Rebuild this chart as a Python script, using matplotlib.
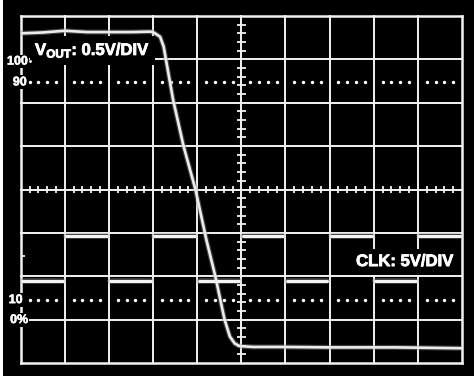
import numpy as np
import matplotlib
matplotlib.use("Agg")
import matplotlib.pyplot as plt
import matplotlib.patheffects as pe
from matplotlib import font_manager

bold_path = font_manager.findfont(
    font_manager.FontProperties(family='Liberation Sans', weight='bold'))
plt.rcParams['font.family'] = ['Liberation Sans', 'DejaVu Sans']
plt.rcParams['font.weight'] = 'bold'
plt.rcParams['mathtext.fontset'] = 'custom'
plt.rcParams['mathtext.rm'] = 'Liberation Sans:bold'
plt.rcParams['mathtext.bf'] = 'Liberation Sans:bold'
plt.rcParams['mathtext.it'] = 'Liberation Sans:bold'

# scope screen, units are divisions (10 x 8)
n_xdiv, n_ydiv = 10, 8

# VOUT trace (0.5V/DIV)
vout_t = [0.0, 0.5, 1.0, 1.5, 2.0, 2.5, 2.95, 3.03, 3.16, 3.24, 3.28,
          3.455, 3.69, 3.96, 4.21, 4.41, 4.62, 4.74, 4.85, 4.96, 5.26,
          5.88, 7.0, 8.5, 10.0]
vout_v = [7.60, 7.62, 7.66, 7.63, 7.63, 7.63, 7.64, 7.61, 7.52, 7.29, 7.06,
          6.06, 5.0, 4.0, 2.83, 2.0, 1.0, 0.61, 0.45, 0.39, 0.37,
          0.37, 0.36, 0.36, 0.34]

# CLK trace (5V/DIV): state per division, 0 = low, 1 = high
clk_state = [0, 1, 0, 1, 0, 1, 0, 1, 0, 1]
clk_low, clk_high = 1.90, 2.92

# 90% / 10% marker rows and the left-hand labels
pct_rows = [6.47, 1.45]
pct_labels = ['100', '90', '10', '0%']
pct_label_y = [6.95, 6.47, 1.45, 0.99]
pct_label_x = [0.165, 0.136, 0.045, 0.17]

fig = plt.figure(figsize=(4.74, 3.79), dpi=100, facecolor='white')
bg = fig.add_axes([3 / 474, 3 / 379, 471 / 474, 376 / 379], zorder=0)
bg.set_facecolor('black')
bg.set_xticks([])
bg.set_yticks([])
for s in bg.spines.values():
    s.set_visible(False)

ax = fig.add_axes([20.7 / 474, 16 / 379, 441.3 / 474, 347 / 379], zorder=1)
ax.set_facecolor('none')
ax.set_xlim(0, n_xdiv)
ax.set_ylim(0, n_ydiv)
ax.set_axis_off()

grid_c = '#f2f2f2'
for i in range(n_xdiv + 1):
    lw = 1.8 if i in (0, n_xdiv) else 1.4
    ax.axvline(i, color=grid_c, lw=lw, zorder=1, clip_on=False)
for j in range(n_ydiv + 1):
    lw = 1.8 if j in (0, n_ydiv) else 1.4
    ax.axhline(j, color=grid_c, lw=lw, zorder=1, clip_on=False)

# minor ticks on the centre cross
xt = [k / 5 for k in range(n_xdiv * 5 + 1) if k % 5]
yt = [k / 5 for k in range(n_ydiv * 5 + 1) if k % 5]
ax.vlines(xt, 4 - 0.09, 4 + 0.09, color=grid_c, lw=1.3, zorder=1)
ax.hlines(yt, 5 - 0.095, 5 + 0.1, color=grid_c, lw=1.3, zorder=1)
ax.hlines(2.47, 0, 0.1, color=grid_c, lw=1.3, zorder=1, clip_on=False)

# dotted 90% / 10% rows (drawn over the label boxes)
for yr in pct_rows:
    ax.scatter(xt, [yr] * len(xt), s=6, color='white', lw=0, zorder=3.5)
ax.scatter([0.2], [6.96], s=4, color='white', lw=0, zorder=3.5)

big = font_manager.FontProperties(fname=bold_path, size=12)
small = font_manager.FontProperties(fname=bold_path, size=9)
thick = [pe.withStroke(linewidth=0.6, foreground='white')]

# channel labels
ax.text(0.324, 7.10, r'V$_{\mathrm{OUT}}$: 0.5V/DIV', color='white',
        fontproperties=big, va='baseline', ha='left', zorder=3,
        path_effects=thick,
        bbox=dict(facecolor='black', edgecolor='none', pad=3.5))
ax.text(7.60, 2.235, 'CLK: 5V/DIV', color='white', fontproperties=big,
        va='baseline', ha='left', zorder=3, path_effects=thick,
        bbox=dict(facecolor='black', edgecolor='none', pad=4))
for lab, lx, ly in zip(pct_labels, pct_label_x, pct_label_y):
    ax.text(lx, ly, lab, color='white', fontproperties=small,
            ha='right', va='center', zorder=3,
            path_effects=[pe.withStroke(linewidth=0.4, foreground='white')],
            bbox=dict(facecolor='black', edgecolor='none', pad=0.6))

# traces, with a faint glow under each
for i, st in enumerate(clk_state):
    lvl = clk_high if st else clk_low
    xs = [i + 0.03, i + 0.95]
    ax.plot(xs, [lvl, lvl], color='#9a9a9a', lw=4, alpha=0.45,
            solid_capstyle='round', zorder=4)
    ax.plot(xs, [lvl, lvl], color='#f4f4f4', lw=2.2,
            solid_capstyle='round', zorder=5)

ax.plot(vout_t, vout_v, color='#8c8c8c', lw=3.6, alpha=0.45, zorder=4)
ax.plot(vout_t, vout_v, color='#ececec', lw=1.9, zorder=5)

fig.savefig('out.png', dpi=100, facecolor=fig.get_facecolor())
